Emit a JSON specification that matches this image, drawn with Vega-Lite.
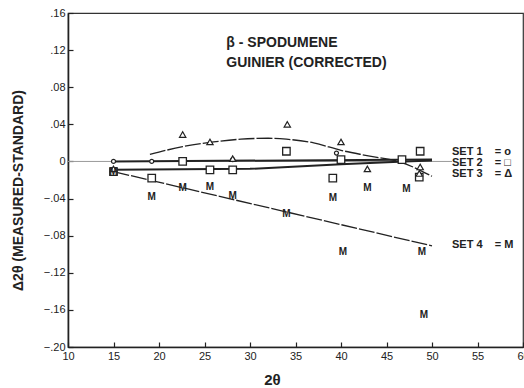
{
  "$schema": "https://vega.github.io/schema/vega-lite/v6.json",
  "width": 455,
  "height": 334,
  "autosize": {"type": "none"},
  "padding": {"left": 68, "top": 13, "right": 1, "bottom": 41},
  "background": "white",
  "config": {
    "view": {"stroke": "#333", "strokeWidth": 1.2},
    "font": "Liberation Sans",
    "axis": {
      "domainColor": "#222",
      "domainWidth": 1.6,
      "tickColor": "#222",
      "tickWidth": 1.2,
      "labelColor": "#222",
      "titleColor": "#222",
      "grid": false
    }
  },
  "datasets": {
    "points": [
      {"set": "1", "x": 15, "y": 0.0},
      {"set": "1", "x": 19.2, "y": 0.0},
      {"set": "1", "x": 28.1, "y": 0.002},
      {"set": "1", "x": 39.5, "y": 0.009},
      {"set": "1", "x": 46.7, "y": 0.002},
      {"set": "2", "x": 15, "y": -0.011},
      {"set": "2", "x": 19.2, "y": -0.018},
      {"set": "2", "x": 22.6, "y": 0.0},
      {"set": "2", "x": 25.6, "y": -0.009},
      {"set": "2", "x": 28.1, "y": -0.009},
      {"set": "2", "x": 34.0, "y": 0.011},
      {"set": "2", "x": 39.1, "y": -0.018},
      {"set": "2", "x": 40.0, "y": 0.002},
      {"set": "2", "x": 46.7, "y": 0.002},
      {"set": "2", "x": 48.7, "y": 0.011},
      {"set": "2", "x": 48.6, "y": -0.017},
      {"set": "3", "x": 15, "y": -0.008},
      {"set": "3", "x": 22.6, "y": 0.029},
      {"set": "3", "x": 25.6, "y": 0.021},
      {"set": "3", "x": 28.1, "y": 0.003},
      {"set": "3", "x": 34.1, "y": 0.04},
      {"set": "3", "x": 40.0, "y": 0.021},
      {"set": "3", "x": 42.9, "y": -0.008},
      {"set": "3", "x": 48.7, "y": -0.006},
      {"set": "3", "x": 48.6, "y": -0.013},
      {"set": "4", "x": 15, "y": -0.011},
      {"set": "4", "x": 19.2, "y": -0.038},
      {"set": "4", "x": 22.6, "y": -0.029},
      {"set": "4", "x": 25.6, "y": -0.028},
      {"set": "4", "x": 28.1, "y": -0.037},
      {"set": "4", "x": 34.0, "y": -0.057},
      {"set": "4", "x": 39.1, "y": -0.039},
      {"set": "4", "x": 40.2, "y": -0.098},
      {"set": "4", "x": 42.9, "y": -0.029},
      {"set": "4", "x": 47.2, "y": -0.03},
      {"set": "4", "x": 48.9, "y": -0.098},
      {"set": "4", "x": 49.1, "y": -0.166}
    ],
    "fits": [
      {"set": "ref", "x": 10, "y": 0.0},
      {"set": "ref", "x": 52.2, "y": 0.0},
      {"set": "1", "x": 15, "y": 0.0},
      {"set": "1", "x": 50, "y": 0.002},
      {"set": "2", "x": 15, "y": -0.009},
      {"set": "2", "x": 30, "y": -0.008},
      {"set": "2", "x": 40, "y": -0.003},
      {"set": "2", "x": 47, "y": 0.0},
      {"set": "2", "x": 50, "y": 0.001},
      {"set": "3", "x": 19, "y": 0.0075},
      {"set": "3", "x": 22.6, "y": 0.016},
      {"set": "3", "x": 26, "y": 0.021},
      {"set": "3", "x": 29, "y": 0.024},
      {"set": "3", "x": 32, "y": 0.025},
      {"set": "3", "x": 34, "y": 0.024},
      {"set": "3", "x": 37, "y": 0.02},
      {"set": "3", "x": 40, "y": 0.012},
      {"set": "3", "x": 43, "y": 0.006},
      {"set": "3", "x": 46.6, "y": -0.001},
      {"set": "3", "x": 50, "y": -0.016},
      {"set": "4", "x": 15, "y": -0.011},
      {"set": "4", "x": 50, "y": -0.091}
    ],
    "heading": [
      {"x": 27.4, "y": 0.1277, "label": "β - SPODUMENE"},
      {"x": 27.4, "y": 0.1062, "label": "GUINIER (CORRECTED)"}
    ],
    "key": [
      {"x": 52.2, "y": 0.0097, "label": "SET 1\u00a0\u00a0\u00a0\u00a0= o"},
      {"x": 52.2, "y": -0.0021, "label": "SET 2\u00a0\u00a0\u00a0\u00a0= □"},
      {"x": 52.2, "y": -0.0139, "label": "SET 3\u00a0\u00a0\u00a0\u00a0= Δ"},
      {"x": 52.2, "y": -0.09, "label": "SET 4\u00a0\u00a0\u00a0\u00a0= M"}
    ]
  },
  "encoding": {
    "x": {
      "field": "x",
      "type": "quantitative",
      "scale": {"domain": [10, 60], "nice": false, "zero": false},
      "axis": {
        "title": "2θ",
        "values": [10, 15, 20, 25, 30, 35, 40, 45, 50, 55, 60],
        "labelFlush": false,
        "tickSize": -5,
        "labelPadding": 8,
        "labelFontSize": 11,
        "titleFontSize": 15,
        "titleFontWeight": "bold",
        "titleX": 204,
        "titleY": 32,
        "titleBaseline": "middle"
      }
    },
    "y": {
      "field": "y",
      "type": "quantitative",
      "scale": {"domain": [-0.2, 0.16], "nice": false, "zero": false},
      "axis": {
        "title": "Δ2θ (MEASURED-STANDARD)",
        "values": [-0.2, -0.16, -0.12, -0.08, -0.04, 0, 0.04, 0.08, 0.12, 0.16],
        "labelExpr": "datum.value == 0 ? '0' : replace(format(datum.value, '.2f'), '0.', '.')",
        "labelFlush": false,
        "tickSize": -5,
        "labelPadding": 8,
        "labelFontSize": 11,
        "titleFontSize": 14,
        "titleFontWeight": "bold",
        "titleX": -50,
        "titleY": 177,
        "titleAngle": -90,
        "titleAlign": "center",
        "titleBaseline": "middle"
      }
    }
  },
  "layer": [
    {
      "data": {"name": "fits"},
      "transform": [{"filter": "datum.set == 'ref'"}],
      "mark": {"type": "line", "color": "#999", "strokeWidth": 1},
      "encoding": {}
    },
    {
      "data": {"name": "fits"},
      "transform": [{"filter": "datum.set == '1' || datum.set == '2'"}],
      "mark": {"type": "line", "color": "#222", "strokeWidth": 2},
      "encoding": {"detail": {"field": "set"}}
    },
    {
      "data": {"name": "fits"},
      "transform": [{"filter": "datum.set == '3' || datum.set == '4'"}],
      "mark": {"type": "line", "color": "#222", "strokeWidth": 1.3, "strokeDash": [16, 2], "interpolate": "monotone"},
      "encoding": {"detail": {"field": "set"}}
    },
    {
      "data": {"name": "points"},
      "transform": [{"filter": "datum.set == '1'"}],
      "mark": {"type": "point", "shape": "circle", "size": 16, "filled": false, "fill": "white", "fillOpacity": 1, "stroke": "#222", "strokeWidth": 1.2}
    },
    {
      "data": {"name": "points"},
      "transform": [{"filter": "datum.set == '2'"}],
      "mark": {"type": "point", "shape": "square", "size": 56, "filled": false, "fill": "white", "fillOpacity": 1, "stroke": "#222", "strokeWidth": 1.3}
    },
    {
      "data": {"name": "points"},
      "transform": [{"filter": "datum.set == '3'"}],
      "mark": {"type": "point", "shape": "triangle-up", "size": 40, "filled": false, "fill": "white", "fillOpacity": 1, "stroke": "#222", "strokeWidth": 1.2}
    },
    {
      "data": {"name": "points"},
      "transform": [{"filter": "datum.set == '4'"}],
      "mark": {"type": "text", "text": "M", "fontSize": 10, "fontWeight": "bold", "color": "#222", "baseline": "middle", "align": "center"}
    },
    {
      "data": {"name": "heading"},
      "mark": {"type": "text", "fontSize": 14, "fontWeight": "bold", "color": "#222", "align": "left", "baseline": "middle"},
      "encoding": {"text": {"field": "label"}}
    },
    {
      "data": {"name": "key"},
      "mark": {"type": "text", "fontSize": 11, "fontWeight": "bold", "color": "#222", "align": "left", "baseline": "middle"},
      "encoding": {"text": {"field": "label"}}
    }
  ]
}
